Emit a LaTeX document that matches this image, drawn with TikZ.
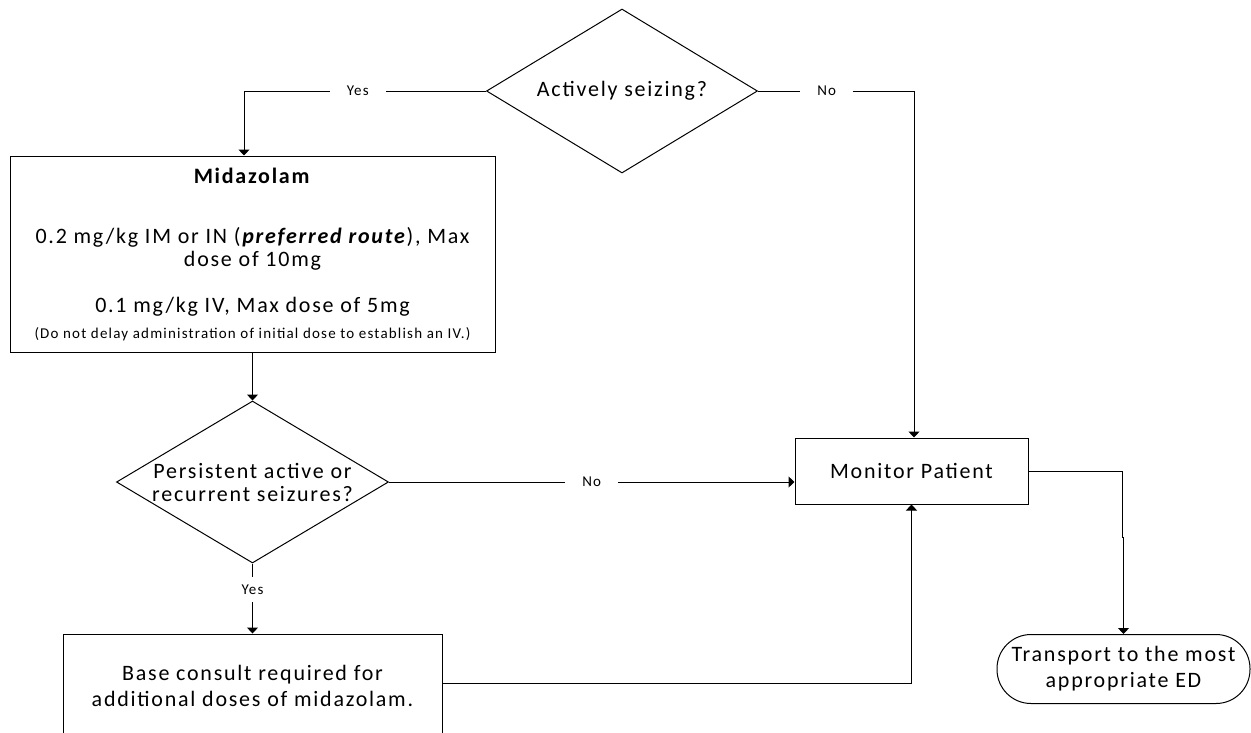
\documentclass[tikz,border=0pt]{standalone}
\usepackage{fontspec}
\setmainfont[LetterSpace=8]{Carlito}
\usetikzlibrary{shapes.geometric,arrows.meta}

\begin{document}
\begin{tikzpicture}[x=1pt,y=-1pt,line width=1pt,
    every node/.style={font=\fontsize{22}{23}\selectfont},
    proc/.style={draw,rectangle,align=center,inner sep=0pt},
    decide/.style={draw,diamond,aspect=1.66,align=center,inner sep=-3pt},
    term/.style={draw,rectangle,rounded corners=34pt,align=center,inner sep=0pt},
    lbl/.style={fill=white,inner xsep=17pt,inner ysep=8pt,font=\fontsize{15}{16}\selectfont},
    flow/.style={-{Triangle[width=11pt,length=6pt]}}]
    \useasboundingbox (0,0) rectangle (1251,732);
    \clip (0,0) rectangle (1251,732);
    \node[decide,minimum width=271pt,minimum height=164pt] (seize) at (622,91) {Actively seizing?};
    \node[proc,minimum width=485pt,minimum height=196pt] (mida) at (252.5,254)
      {\textbf{Midazolam}\\[37pt]
       0.2 mg/kg IM or IN (\textbf{\textit{preferred route}}), Max\\
       dose of 10mg\\[23pt]
       0.1 mg/kg IV, Max dose of 5mg\\[3pt]
       {\fontsize{15}{16}\selectfont (Do not delay administration of initial dose to establish an IV.)}};
    \node[decide,minimum width=272pt,minimum height=162pt] (persist) at (252.5,482)
      {Persistent active or\\ recurrent seizures?};
    \node[proc,minimum width=379pt,minimum height=104pt] (base) at (252.5,686)
      {Base consult required for\\[3pt] additional doses of midazolam.};
    \node[proc,minimum width=233pt,minimum height=66pt] (monitor) at (911.5,471) {Monitor Patient};
    \node[term,minimum width=253pt,minimum height=69pt] (transport) at (1123.5,669)
      {Transport to the most\\[3pt] appropriate ED};
    \coordinate (jog) at (1123.5,537);

    \draw[flow] (seize.west) -| ([xshift=-8.5pt]mida.north) node[lbl,pos=0.265] {Yes};
    \draw[flow] (seize.east) -| ([xshift=2.5pt]monitor.north) node[lbl,pos=0.22] {No};
    \draw[flow] (mida.south) -- (persist.north);
    \draw[flow] (persist.east) -- (persist.east -| monitor.west) node[lbl,midway] {No};
    \draw[flow] (persist.south) -- (base.north) node[lbl,pos=0.37] {Yes};
    \draw[flow] ([yshift=3pt]base.east) -| (monitor.south);
    \draw (monitor.east) -| ([xshift=-1pt]jog) -- (jog);
    \draw[flow] (jog) -- (jog |- transport.north);
\end{tikzpicture}
\end{document}
